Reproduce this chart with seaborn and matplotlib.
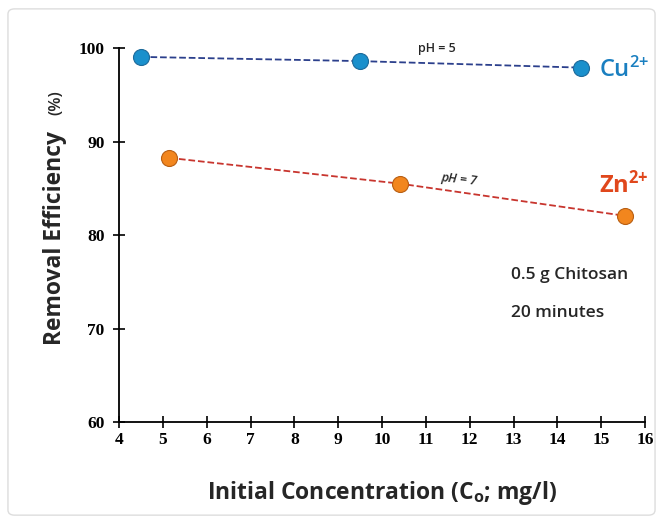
import matplotlib
matplotlib.use("Agg")
import matplotlib.pyplot as plt
from matplotlib.patches import FancyBboxPatch
import pandas as pd
import seaborn as sns

# Data
cu_conc = [4.5, 9.5, 14.55]
cu_eff = [99.05, 98.6, 97.9]
zn_conc = [5.15, 10.4, 15.55]
zn_eff = [88.25, 85.5, 82.05]
x_ticks = list(range(4, 17))
y_ticks = [60, 70, 80, 90, 100]

sns.set_style("ticks")
plt.rcParams['font.family'] = ['Open Sans', 'DejaVu Sans']
plt.rcParams['mathtext.default'] = 'regular'

cu = pd.DataFrame({'conc': cu_conc, 'eff': cu_eff})
zn = pd.DataFrame({'conc': zn_conc, 'eff': zn_eff})

fig = plt.figure(figsize=(6.63, 5.23), dpi=100)
ax = fig.add_axes([0.1795, 0.193, 0.7934, 0.7152])

# light rounded frame round the whole figure
frame = FancyBboxPatch((0.012, 0.015), 0.976, 0.968, boxstyle="round,pad=0,rounding_size=0.01",
                       transform=fig.transFigure, fill=False, edgecolor='#dddddd', linewidth=1.0)
fig.patches.append(frame)

sns.lineplot(data=cu, x='conc', y='eff', ax=ax, color='#2b3f8c', linestyle='--', linewidth=1.3,
             marker='o', markersize=11.5, markerfacecolor='#1a90cc', markeredgecolor='#1d6a9a',
             markeredgewidth=0.8)
sns.lineplot(data=zn, x='conc', y='eff', ax=ax, color='#c8352e', linestyle='--', linewidth=1.3,
             marker='o', markersize=11.5, markerfacecolor='#f2861e', markeredgecolor='#b85e12',
             markeredgewidth=0.8)

ax.set_xlim(4, 16)
ax.set_ylim(60, 100)
ax.set_xticks(x_ticks)
ax.set_yticks(y_ticks)
ax.tick_params(direction='inout', length=9, width=1.2, colors='black', labelsize=12.5)
for lab in ax.get_xticklabels() + ax.get_yticklabels():
    lab.set_fontfamily('Liberation Serif')
    lab.set_fontweight('bold')
ax.tick_params(axis='x', pad=3)
ax.tick_params(axis='y', pad=6)
sns.despine(ax=ax)
for side in ['left', 'bottom']:
    ax.spines[side].set_linewidth(1.3)
    ax.spines[side].set_color('black')

ax.set_xlabel(r"Initial Concentration (C$_{o}$; mg/l)", fontsize=16.5,
              fontweight='bold', labelpad=22)
ax.set_ylabel("")
ax.text(-0.122, 0.205, "Removal Efficiency", transform=ax.transAxes, rotation=90,
        ha='center', va='bottom', fontsize=16.5, fontweight='bold')
ax.text(-0.12, 0.82, "(%)", transform=ax.transAxes, rotation=90,
        ha='center', va='bottom', fontsize=12, fontweight='semibold')

ax.text(14.95, 97.6, r"Cu$^{2{+}}$", fontsize=17, fontweight='semibold', color='#1a7fc0',
        va='center', ha='left')
ax.text(14.95, 85.3, r"Zn$^{2{+}}$", fontsize=17, fontweight='bold', color='#e0471c',
        va='center', ha='left')
ax.text(11.25, 99.9, "pH = 5", fontsize=9, fontweight='semibold', va='center', ha='center')
ax.text(11.75, 85.9, "pH = 7", fontsize=9, fontweight='semibold', style='italic',
        va='center', ha='center', rotation=-6)
ax.text(12.95, 75.7, "0.5 g Chitosan", fontsize=12.5, fontweight='semibold', va='center', ha='left')
ax.text(12.95, 71.7, "20 minutes", fontsize=12.5, fontweight='semibold', va='center', ha='left')

fig.savefig("out.png", dpi=100)
